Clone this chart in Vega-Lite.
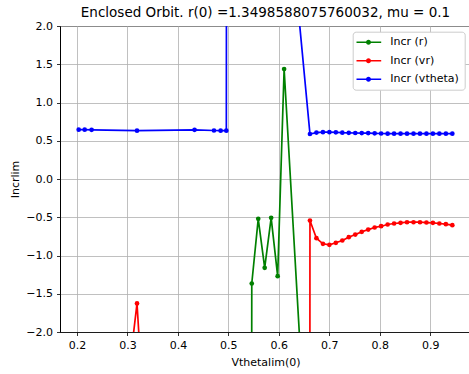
{
  "$schema": "https://vega.github.io/schema/vega-lite/v6.json",
  "width": 411,
  "height": 306,
  "autosize": "none",
  "padding": {"left": 60, "top": 26, "right": 0, "bottom": 42},
  "background": "white",
  "title": {"text": "Enclosed Orbit. r(0) =1.3498588075760032, mu = 0.1", "fontSize": 13.5, "font": "DejaVu Sans", "fontWeight": "normal", "color": "black", "anchor": "middle", "offset": 1},
  "config": {
    "font": "DejaVu Sans",
    "view": {"stroke": "black", "strokeWidth": 1},
    "axis": {
      "labelFont": "DejaVu Sans", "labelFontSize": 11, "labelColor": "black",
      "titleFont": "DejaVu Sans", "titleFontSize": 11, "titleFontWeight": "normal", "titleColor": "black",
      "tickColor": "black", "tickSize": 3.5, "tickWidth": 0.8,
      "domainColor": "black", "domainWidth": 0.8,
      "gridColor": "#b0b0b0", "gridWidth": 0.8, "labelPadding": 4
    }
  },
  "data": {"values": [
    {"s": "Incr (r)", "x": 0.5336, "y": -100},
    {"s": "Incr (r)", "x": 0.5464, "y": -1.366},
    {"s": "Incr (r)", "x": 0.5592, "y": -0.521},
    {"s": "Incr (r)", "x": 0.5720, "y": -1.161},
    {"s": "Incr (r)", "x": 0.5848, "y": -0.508},
    {"s": "Incr (r)", "x": 0.5977, "y": -1.270},
    {"s": "Incr (r)", "x": 0.6105, "y": 1.437},
    {"s": "Incr (r)", "x": 0.6489, "y": -2.96},
    {"s": "Incr (vr)", "x": 0.2034, "y": -20},
    {"s": "Incr (vr)", "x": 0.2153, "y": -20},
    {"s": "Incr (vr)", "x": 0.2290, "y": -6.7},
    {"s": "Incr (vr)", "x": 0.3190, "y": -1.627},
    {"s": "Incr (vr)", "x": 0.4330, "y": -14},
    {"s": "Incr (vr)", "x": 0.4715, "y": -20},
    {"s": "Incr (vr)", "x": 0.4847, "y": -20},
    {"s": "Incr (vr)", "x": 0.4960, "y": -20},
    {"s": "Incr (vr)", "x": 0.6489, "y": -150},
    {"s": "Incr (vr)", "x": 0.6617, "y": -0.543},
    {"s": "Incr (vr)", "x": 0.6745, "y": -0.774},
    {"s": "Incr (vr)", "x": 0.6874, "y": -0.847},
    {"s": "Incr (vr)", "x": 0.7002, "y": -0.860},
    {"s": "Incr (vr)", "x": 0.7130, "y": -0.834},
    {"s": "Incr (vr)", "x": 0.7258, "y": -0.804},
    {"s": "Incr (vr)", "x": 0.7386, "y": -0.761},
    {"s": "Incr (vr)", "x": 0.7515, "y": -0.726},
    {"s": "Incr (vr)", "x": 0.7643, "y": -0.691},
    {"s": "Incr (vr)", "x": 0.7771, "y": -0.661},
    {"s": "Incr (vr)", "x": 0.7899, "y": -0.634},
    {"s": "Incr (vr)", "x": 0.8027, "y": -0.617},
    {"s": "Incr (vr)", "x": 0.8156, "y": -0.595},
    {"s": "Incr (vr)", "x": 0.8284, "y": -0.582},
    {"s": "Incr (vr)", "x": 0.8412, "y": -0.573},
    {"s": "Incr (vr)", "x": 0.8540, "y": -0.565},
    {"s": "Incr (vr)", "x": 0.8669, "y": -0.565},
    {"s": "Incr (vr)", "x": 0.8797, "y": -0.565},
    {"s": "Incr (vr)", "x": 0.8925, "y": -0.569},
    {"s": "Incr (vr)", "x": 0.9053, "y": -0.573},
    {"s": "Incr (vr)", "x": 0.9181, "y": -0.582},
    {"s": "Incr (vr)", "x": 0.9310, "y": -0.591},
    {"s": "Incr (vr)", "x": 0.9438, "y": -0.604},
    {"s": "Incr (vtheta)", "x": 0.2034, "y": 0.645},
    {"s": "Incr (vtheta)", "x": 0.2153, "y": 0.645},
    {"s": "Incr (vtheta)", "x": 0.2290, "y": 0.643},
    {"s": "Incr (vtheta)", "x": 0.3190, "y": 0.632},
    {"s": "Incr (vtheta)", "x": 0.4330, "y": 0.643},
    {"s": "Incr (vtheta)", "x": 0.4715, "y": 0.634},
    {"s": "Incr (vtheta)", "x": 0.4847, "y": 0.632},
    {"s": "Incr (vtheta)", "x": 0.4960, "y": 0.632},
    {"s": "Incr (vtheta)", "x": 0.5336, "y": 300},
    {"s": "Incr (vtheta)", "x": 0.6105, "y": 4.17},
    {"s": "Incr (vtheta)", "x": 0.6617, "y": 0.588},
    {"s": "Incr (vtheta)", "x": 0.6745, "y": 0.607},
    {"s": "Incr (vtheta)", "x": 0.6874, "y": 0.612},
    {"s": "Incr (vtheta)", "x": 0.7002, "y": 0.612},
    {"s": "Incr (vtheta)", "x": 0.7130, "y": 0.610},
    {"s": "Incr (vtheta)", "x": 0.7258, "y": 0.605},
    {"s": "Incr (vtheta)", "x": 0.7386, "y": 0.603},
    {"s": "Incr (vtheta)", "x": 0.7515, "y": 0.601},
    {"s": "Incr (vtheta)", "x": 0.7643, "y": 0.600},
    {"s": "Incr (vtheta)", "x": 0.7771, "y": 0.600},
    {"s": "Incr (vtheta)", "x": 0.7899, "y": 0.597},
    {"s": "Incr (vtheta)", "x": 0.8027, "y": 0.595},
    {"s": "Incr (vtheta)", "x": 0.8156, "y": 0.593},
    {"s": "Incr (vtheta)", "x": 0.8284, "y": 0.593},
    {"s": "Incr (vtheta)", "x": 0.8412, "y": 0.593},
    {"s": "Incr (vtheta)", "x": 0.8540, "y": 0.593},
    {"s": "Incr (vtheta)", "x": 0.8669, "y": 0.593},
    {"s": "Incr (vtheta)", "x": 0.8797, "y": 0.593},
    {"s": "Incr (vtheta)", "x": 0.8925, "y": 0.593},
    {"s": "Incr (vtheta)", "x": 0.9053, "y": 0.593},
    {"s": "Incr (vtheta)", "x": 0.9181, "y": 0.593},
    {"s": "Incr (vtheta)", "x": 0.9310, "y": 0.593},
    {"s": "Incr (vtheta)", "x": 0.9438, "y": 0.593}
  ]},
  "encoding": {
    "x": {"field": "x", "type": "quantitative",
      "scale": {"domain": [0.1664, 0.9808], "nice": false, "zero": false},
      "axis": {"title": "Vthetalim(0)", "values": [0.2, 0.3, 0.4, 0.5, 0.6, 0.7, 0.8, 0.9], "format": ".1f", "titlePadding": 6}},
    "y": {"field": "y", "type": "quantitative",
      "scale": {"domain": [-2, 2], "nice": false, "zero": false},
      "axis": {"title": "Incrlim", "values": [-2, -1.5, -1, -0.5, 0, 0.5, 1, 1.5, 2], "format": ".1f", "titlePadding": 5}},
    "color": {"field": "s", "type": "nominal",
      "scale": {"domain": ["Incr (r)", "Incr (vr)", "Incr (vtheta)"], "range": ["green", "red", "blue"]},
      "legend": {
        "title": null, "orient": "none", "legendX": 292.7, "legendY": 5.7,
        "fillColor": "white", "strokeColor": "#cccccc", "cornerRadius": 3, "padding": 5,
        "labelFont": "DejaVu Sans", "labelFontSize": 11, "labelColor": "black", "labelOffset": 21.6,
        "symbolSize": 100, "rowPadding": 6.5, "symbolStrokeWidth": 0,
        "symbolType": "M-1.34,-0.16L3.6,-0.16L3.6,0.16L-1.34,0.16Z M0.56,0 A0.5,0.5 0 1,1 1.56,0 A0.5,0.5 0 1,1 0.56,0 Z",
        "encode": {"symbols": {"update": {"fill": {"scale": "color", "field": "value"}, "stroke": {"value": "transparent"}, "strokeWidth": {"value": 0}, "opacity": {"value": 1}}}}
      }}
  },
  "layer": [
    {"mark": {"type": "line", "clip": true, "strokeWidth": 1.7}},
    {"mark": {"type": "point", "clip": true, "filled": true, "size": 22, "opacity": 1}}
  ]
}
